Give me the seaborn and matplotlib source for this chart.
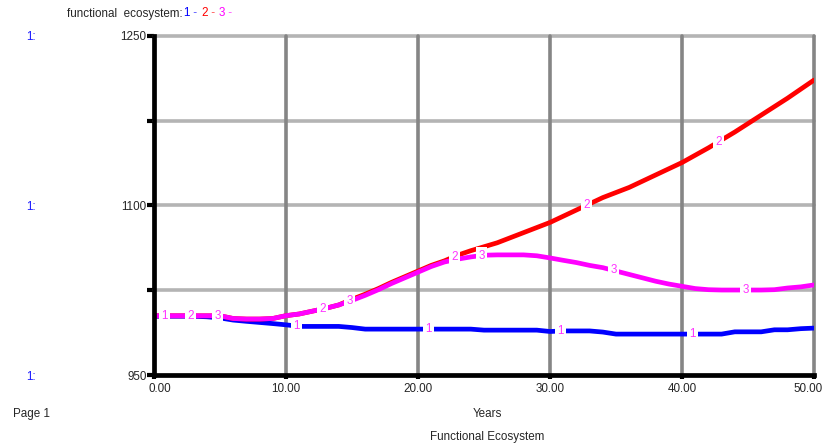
import numpy as np
import pandas as pd
import matplotlib
matplotlib.use('Agg')
import matplotlib.pyplot as plt
import matplotlib.transforms as mtransforms
import seaborn as sns

# ================= data =================
years = list(range(0, 51))

series_1 = [1002, 1002, 1002, 1002, 1001.5, 1000.5, 998.6, 997.5, 996.5, 995.5,
            994.4, 993, 993, 993, 993, 992, 990.6, 990.6, 990.6, 990.6,
            990.6, 990.6, 990.6, 990.6, 990.6, 989.7, 989.7, 989.7, 989.7, 989.7,
            988.5, 989, 989, 989, 988, 986.2, 986.2, 986.2, 986.2, 986.2,
            986.2, 986.2, 986.2, 986.2, 988.2, 988.2, 988.2, 990, 990, 991,
            991.5]

series_2 = [1002.4, 1002.4, 1002.4, 1002.4, 1002.4, 1002.4, 1000, 999.5, 999.5, 1000,
            1002.5, 1004, 1006.5, 1009, 1012, 1017, 1021.5, 1026.5, 1032, 1037,
            1042, 1047, 1051, 1056, 1060, 1063.5, 1067, 1071.5, 1076, 1080.5,
            1085, 1090.5, 1096, 1101.5, 1107, 1111.5, 1116, 1121.5, 1127, 1132.5,
            1138, 1144.5, 1151, 1158, 1165, 1172.5, 1180, 1187.5, 1195, 1203,
            1211]

series_3 = [1002.4, 1002.4, 1002.4, 1002.4, 1002.4, 1002.4, 1000, 999.5, 999.5, 1000,
            1002.5, 1004, 1006.5, 1009, 1012, 1016, 1020.5, 1025.5, 1031, 1036,
            1041, 1046, 1050, 1052.5, 1054.5, 1056, 1056.3, 1056.3, 1056.3, 1055.5,
            1053.6, 1051.5, 1049.5, 1047, 1045, 1042, 1039, 1036, 1033, 1030.5,
            1028.5, 1026.5, 1025.5, 1025.2, 1025.2, 1025.2, 1025.2, 1025.5, 1027, 1028,
            1029.7]

x_ticks = [0, 10, 20, 30, 40, 50]
x_ticklabels = ['0.00', '10.00', '20.00', '30.00', '40.00', '50.00']
y_ticks = [950, 1025, 1100, 1175, 1250]
y_ticklabels = ['950', '', '1100', '', '1250']
label_offsets = {'1': 0.8, '2': 2.75, '3': 4.8}

df = pd.DataFrame({'Years': years, '1': series_1, '2': series_2, '3': series_3})

# ================= style =================
sns.set_style('white')
plt.rcParams['font.family'] = ['Liberation Sans', 'DejaVu Sans']
FS = 8.4

colors = {'1': '#0000FF', '2': '#FF0000', '3': '#FF00FF'}
label_color = '#FF33FF'

W, H = 837, 446
fig = plt.figure(figsize=(W / 100, H / 100), dpi=100)
ax = fig.add_axes([154 / W, 1 - 375 / H, (814 - 154) / W, (375 - 36) / H])

# grid (drawn by hand so the edge lines are not clipped)
for yv in y_ticks[1:]:
    ax.axhline(yv, color='#B4B4B4', lw=2.6, zorder=1, clip_on=False)
for xv in x_ticks[1:]:
    ax.axvline(xv, color='#858585', lw=2.6, zorder=1.2, clip_on=False)

for key in ['1', '2', '3']:
    sns.lineplot(data=df, x='Years', y=key, color=colors[key], lw=3.4,
                 legend=False, ax=ax, zorder=3)

# series labels with white box cut-outs
for k in range(5):
    for key, off in label_offsets.items():
        tx = off + 10 * k
        ty = np.interp(tx, df['Years'], df[key])
        ax.text(tx, ty, key, color=label_color, fontsize=FS, ha='center',
                va='center', zorder=6,
                bbox=dict(facecolor='white', edgecolor='none', pad=1.6))

ax.set_xlim(0, 50)
ax.set_ylim(950, 1250)
ax.set_xticks(x_ticks)
ax.set_xticklabels(x_ticklabels, fontsize=FS)
ax.set_yticks(y_ticks)
ax.set_yticklabels(y_ticklabels, fontsize=FS)
ax.set_xlabel('')
ax.set_ylabel('')

for s in ['top', 'right']:
    ax.spines[s].set_visible(False)
for s in ['left', 'bottom']:
    ax.spines[s].set_color('black')
    ax.spines[s].set_linewidth(3.4)
    ax.spines[s].set_zorder(4)
    ax.spines[s].set_capstyle('projecting')

ax.tick_params(axis='y', direction='out', length=5, width=3, color='black',
               pad=0.3, left=True)
ax.tick_params(axis='x', direction='out', length=3, width=3, color='black',
               pad=2.5, bottom=True)

# nudge the end labels like the original
first, last = ax.get_xticklabels()[0], ax.get_xticklabels()[-1]
first.set_transform(first.get_transform() + mtransforms.ScaledTranslation(0.06, 0, fig.dpi_scale_trans))
last.set_transform(last.get_transform() + mtransforms.ScaledTranslation(-0.06, 0, fig.dpi_scale_trans))

# left "1:" scale markers
blend = mtransforms.blended_transform_factory(fig.transFigure, ax.transData)
for yv in [1250, 1100, 950]:
    ax.text(26 / W, yv, '1:', color='#1a1aff', fontsize=FS, transform=blend,
            ha='left', va='center_baseline', clip_on=False)

# header: functional ecosystem: 1 - 2 - 3 -
prev = fig.text(67 / W, 1 - 16.5 / H, 'functional  ecosystem:', fontsize=FS,
                ha='left', va='baseline')
for txt, col in [('1', colors['1']), (' - ', '#5555FF'), ('2', colors['2']),
                 (' - ', '#FF5555'), ('3', colors['3']), (' -', '#FF55FF')]:
    prev = ax.annotate(txt, xy=(1, 0), xycoords=prev, xytext=(0.6 if txt in '123' else 0, 0),
                       textcoords='offset points', color=col, fontsize=FS,
                       ha='left', va='bottom', annotation_clip=False)

fig.text(13 / W, 1 - 417 / H, 'Page 1', fontsize=FS, ha='left', va='baseline')
fig.text(487 / W, 1 - 417 / H, 'Years', fontsize=FS, ha='center', va='baseline')
fig.text(487 / W, 1 - 440 / H, 'Functional Ecosystem', fontsize=FS, ha='center', va='baseline')

fig.savefig('out.png', dpi=100)
